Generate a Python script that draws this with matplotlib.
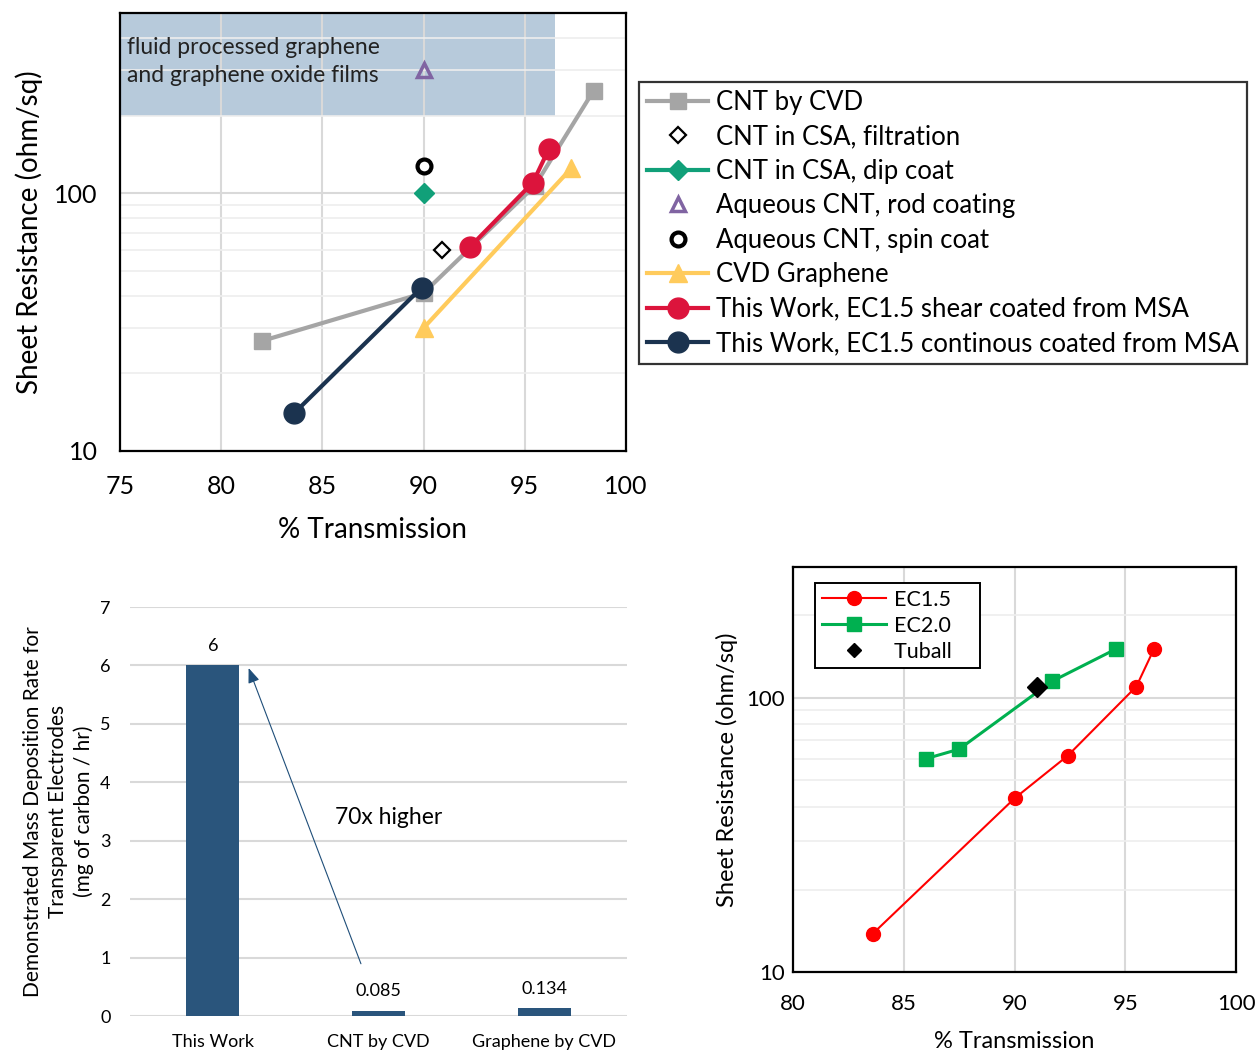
import matplotlib
matplotlib.use('Agg')
import matplotlib.pyplot as plt
from matplotlib.ticker import FixedLocator, NullFormatter, LogLocator

plt.rcParams['font.family'] = ['Lato', 'DejaVu Sans']

# --- top chart: sheet resistance vs transmission, literature comparison
cnt_cvd_x = [82, 90, 95.5, 98.4]
cnt_cvd_y = [26.7, 41, 107, 250]
csa_filt_x = [90.9]
csa_filt_y = [60]
csa_dip_x = [90]
csa_dip_y = [100]
aq_rod_x = [90]
aq_rod_y = [300]
aq_spin_x = [90]
aq_spin_y = [127]
cvd_gr_x = [90, 97.3]
cvd_gr_y = [30, 125]
shear_x = [92.3, 95.4, 96.2]
shear_y = [62, 110, 149]
cont_x = [83.6, 89.9]
cont_y = [14, 43]

# --- bar chart
bar_labels = ['This Work', 'CNT by CVD', 'Graphene by CVD']
bar_values = [6, 0.085, 0.134]

# --- bottom right: EC1.5 vs EC2.0
ec15_x = [83.6, 90.0, 92.4, 95.5, 96.3]
ec15_y = [13.8, 43, 61.5, 110, 151]
ec20_x = [86.0, 87.5, 91.7, 94.6]
ec20_y = [60, 65, 115, 151]
tuball_x = [91.0]
tuball_y = [110]

fig = plt.figure(figsize=(12.56, 10.52), dpi=100)

# ---------------- top chart
ax1 = fig.add_axes([0.0955, 0.5713, 0.4029, 0.4163])
ax1.set_yscale('log')
ax1.set_xlim(75, 100)
ax1.set_ylim(10, 500)
ax1.yaxis.set_major_locator(FixedLocator([10, 100]))
ax1.yaxis.set_minor_locator(LogLocator(base=10, subs=range(2, 10)))
ax1.yaxis.set_minor_formatter(NullFormatter())
ax1.set_yticks([10, 100], ['10', '100'])
ax1.set_xticks([75, 80, 85, 90, 95, 100])
ax1.grid(True, which='major', color='#d9d9d9', lw=1.5, zorder=0)
ax1.grid(True, which='minor', axis='y', color='#eeeeee', lw=1.2, zorder=0)
ax1.tick_params(which='both', length=0, labelsize=18)
ax1.tick_params(axis='x', pad=17)
ax1.tick_params(axis='y', pad=16)
for s in ax1.spines.values():
    s.set_linewidth(1.6)
ax1.fill_between([75, 96.5], 200, 500, color='#7096b8', alpha=0.5, lw=0, zorder=1)
ax1.text(75.35, 405, 'fluid processed graphene\nand graphene oxide films', fontsize=16.5,
         va='top', ha='left', linespacing=1.45, color='#222222', zorder=5)

h = []
h += ax1.plot(cnt_cvd_x, cnt_cvd_y, '-s', color='#a5a5a5', lw=3, ms=12, label='CNT by CVD', zorder=3)
h += ax1.plot(csa_filt_x, csa_filt_y, 'D', mfc='white', mec='black', mew=1.6, ms=8, ls='none',
              label='CNT in CSA, filtration', zorder=4)
h += ax1.plot(csa_dip_x, csa_dip_y, '-D', color='#11a079', lw=3, ms=10, label='CNT in CSA, dip coat', zorder=4)
h += ax1.plot(aq_rod_x, aq_rod_y, '^', mfc='none', mec='#8064a2', mew=2.5, ms=10, ls='none',
              label='Aqueous CNT, rod coating', zorder=4)
h += ax1.plot(aq_spin_x, aq_spin_y, 'o', mfc='white', mec='black', mew=3, ms=10, ls='none',
              label='Aqueous CNT, spin coat', zorder=4)
h += ax1.plot(cvd_gr_x, cvd_gr_y, '-^', color='#ffcb5c', lw=3, ms=13, label='CVD Graphene', zorder=3)
h += ax1.plot(shear_x, shear_y, '-o', color='#dc143c', lw=3, ms=15, label='This Work, EC1.5 shear coated from MSA', zorder=5)
h += ax1.plot(cont_x, cont_y, '-o', color='#1b334f', lw=3, ms=15, label='This Work, EC1.5 continous coated from MSA', zorder=5)
ax1.set_xlabel('% Transmission', fontsize=20, labelpad=14)
ax1.set_ylabel('Sheet Resistance (ohm/sq)', fontsize=20, labelpad=8)

leg = fig.legend(handles=h, loc='upper left', bbox_to_anchor=(639 / 1256, 1 - 82 / 1052),
                 fontsize=18.5, frameon=True, fancybox=False, edgecolor='black',
                 handlelength=2.4, labelspacing=0.37, borderpad=0.3, handletextpad=0.3,
                 borderaxespad=0)
leg.get_frame().set_linewidth(1.6)

# ---------------- bar chart
ax2 = fig.add_axes([0.1035, 0.0342, 0.3957, 0.3888])
xpos = range(len(bar_labels))
bars = ax2.bar(xpos, bar_values, width=0.32, color='#2a557c', zorder=3)
ax2.set_xlim(-0.5, 2.5)
ax2.set_ylim(0, 7)
ax2.set_yticks(range(0, 8))
ax2.set_xticks(list(xpos), bar_labels)
ax2.grid(True, axis='y', color='#d9d9d9', lw=1.5, zorder=0)
ax2.tick_params(length=0, labelsize=13)
ax2.tick_params(axis='y', pad=14)
ax2.tick_params(axis='x', pad=13)
for s in ax2.spines.values():
    s.set_visible(False)
for b, v in zip(bars, bar_values):
    ax2.text(b.get_x() + b.get_width() / 2, v + 0.2, str(v), ha='center', va='bottom', fontsize=13)
ax2.set_ylabel('Demonstrated Mass Deposition Rate for\nTransparent Electrodes\n(mg of carbon / hr)',
               fontsize=15, labelpad=4, linespacing=1.33)
ax2.annotate('', xy=(0.21, 6.0), xytext=(0.9, 0.85),
             arrowprops=dict(arrowstyle='-|>,head_length=0.9,head_width=0.35', color='#1f4e79', lw=0.8))
ax2.text(0.74, 3.4, '70x higher', fontsize=16.5, ha='left', va='center')

# ---------------- bottom right chart
ax3 = fig.add_axes([0.6314, 0.0760, 0.3527, 0.3850])
ax3.set_yscale('log')
ax3.set_xlim(80, 100)
ax3.set_ylim(10, 300)
ax3.yaxis.set_major_locator(FixedLocator([10, 100]))
ax3.yaxis.set_minor_locator(LogLocator(base=10, subs=range(2, 10)))
ax3.yaxis.set_minor_formatter(NullFormatter())
ax3.set_yticks([10, 100], ['10', '100'])
ax3.set_xticks([80, 85, 90, 95, 100])
ax3.grid(True, which='major', color='#d9d9d9', lw=1.5, zorder=0)
ax3.grid(True, which='minor', axis='y', color='#eeeeee', lw=1.2, zorder=0)
ax3.tick_params(which='both', length=0, labelsize=16)
ax3.tick_params(axis='x', pad=16)
ax3.tick_params(axis='y', pad=6)
for s in ax3.spines.values():
    s.set_linewidth(1.6)
ax3.plot(ec15_x, ec15_y, '-o', color='#ff0000', lw=1.5, ms=10, label='EC1.5', zorder=3)
ax3.plot(ec20_x, ec20_y, '-s', color='#00b050', lw=2.2, ms=10, label='EC2.0', zorder=3)
ax3.plot(tuball_x, tuball_y, 'D', color='black', ms=10, ls='none', label='Tuball', zorder=4)
ax3.set_xlabel('% Transmission', fontsize=17, labelpad=12)
ax3.set_ylabel('Sheet Resistance (ohm/sq)', fontsize=17, labelpad=6)
leg3 = ax3.legend(loc='upper left', bbox_to_anchor=(0.05, 0.96), fontsize=15.5, fancybox=False,
                  edgecolor='black', framealpha=1, handlelength=3.0, labelspacing=0.28,
                  borderpad=0.3, handletextpad=0.35, borderaxespad=0)
for t in leg3.get_texts():
    t.set_text(t.get_text() + '    ')
leg3.get_frame().set_linewidth(1.4)
leg3.legend_handles[2].set_markersize(7)

fig.savefig('out.png', dpi=100)
